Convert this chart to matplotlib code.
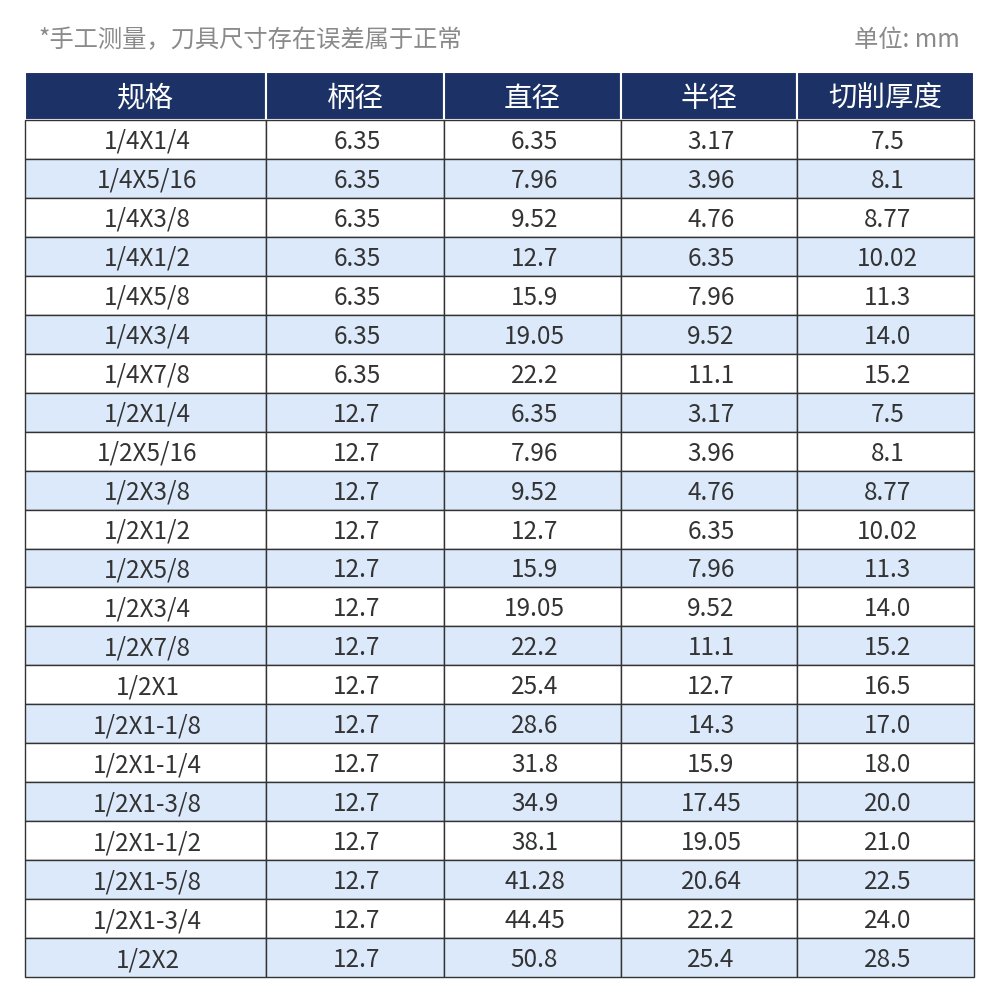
import matplotlib
matplotlib.use("Agg")
import matplotlib.pyplot as plt
from matplotlib.patches import Rectangle

plt.rcParams['font.family'] = ['Noto Sans CJK SC', 'DejaVu Sans']

headers = ["规格", "柄径", "直径", "半径", "切削厚度"]
spec = ["1/4X1/4", "1/4X5/16", "1/4X3/8", "1/4X1/2", "1/4X5/8", "1/4X3/4", "1/4X7/8",
        "1/2X1/4", "1/2X5/16", "1/2X3/8", "1/2X1/2", "1/2X5/8", "1/2X3/4", "1/2X7/8",
        "1/2X1", "1/2X1-1/8", "1/2X1-1/4", "1/2X1-3/8", "1/2X1-1/2", "1/2X1-5/8",
        "1/2X1-3/4", "1/2X2"]
shank = ["6.35"] * 7 + ["12.7"] * 15
diameter = ["6.35", "7.96", "9.52", "12.7", "15.9", "19.05", "22.2",
            "6.35", "7.96", "9.52", "12.7", "15.9", "19.05", "22.2",
            "25.4", "28.6", "31.8", "34.9", "38.1", "41.28", "44.45", "50.8"]
radius = ["3.17", "3.96", "4.76", "6.35", "7.96", "9.52", "11.1",
          "3.17", "3.96", "4.76", "6.35", "7.96", "9.52", "11.1",
          "12.7", "14.3", "15.9", "17.45", "19.05", "20.64", "22.2", "25.4"]
cut = ["7.5", "8.1", "8.77", "10.02", "11.3", "14.0", "15.2",
       "7.5", "8.1", "8.77", "10.02", "11.3", "14.0", "15.2",
       "16.5", "17.0", "18.0", "20.0", "21.0", "22.5", "24.0", "28.5"]
columns = [spec, shank, diameter, radius, cut]

col_edges = [25, 266, 444, 621, 797, 974]
top, head_h = 72, 48
row_h = (977 - (top + head_h)) / len(spec)

fig = plt.figure(figsize=(10, 10.06), dpi=100)
ax = fig.add_axes([0, 0, 1, 1])
ax.set_xlim(0, 1000)
ax.set_ylim(1006, 0)
ax.axis('off')

ax.text(38, 40, "*手工测量，刀具尺寸存在误差属于正常", fontsize=17.5, color="#8a8a8a", va="center")
ax.text(960, 40, "单位: mm", fontsize=17.5, color="#8a8a8a", va="center", ha="right")

navy = "#1c3165"
for c, h in enumerate(headers):
    x0, x1 = col_edges[c], col_edges[c + 1]
    ax.add_patch(Rectangle((x0, top), x1 - x0, head_h, facecolor=navy, edgecolor="white", lw=1.5))
    ax.text((x0 + x1) / 2, top + head_h / 2 + 2.5, h, fontsize=20.5, color="white",
            ha="center", va="center")

y0 = top + head_h
for r in range(len(spec)):
    fc = "#ffffff" if r % 2 == 0 else "#dbe9fb"
    for c, col in enumerate(columns):
        x0, x1 = col_edges[c], col_edges[c + 1]
        yy = y0 + r * row_h
        ax.add_patch(Rectangle((x0, yy), x1 - x0, row_h, facecolor=fc, edgecolor="#333333", lw=1))
        ax.text((x0 + x1) / 2 + 2, yy + row_h / 2 + 2.5, col[r], fontsize=17.5, color="#333333",
                ha="center", va="center")

fig.savefig("out.png", dpi=100, facecolor="white")
